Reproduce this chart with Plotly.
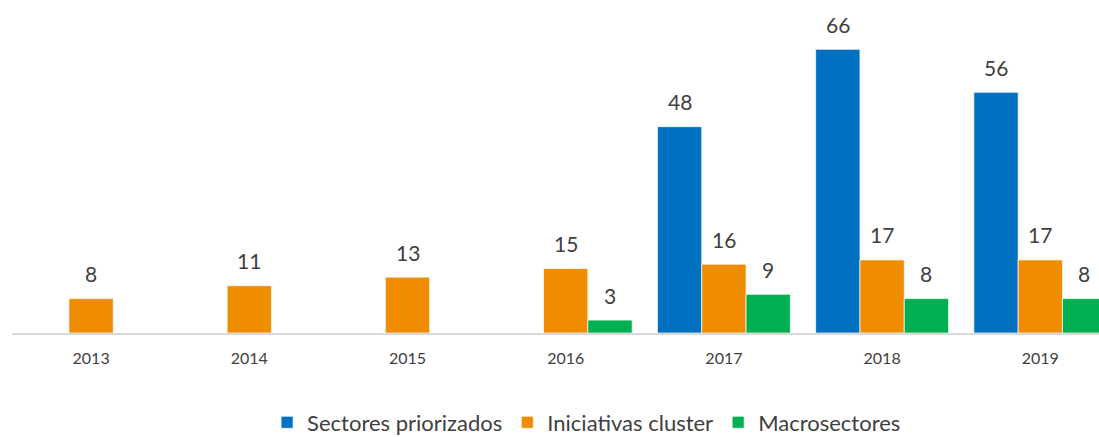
import plotly.graph_objects as go

years = ["2013", "2014", "2015", "2016", "2017", "2018", "2019"]
sectores = [None, None, None, None, 48, 66, 56]
iniciativas = [8, 11, 13, 15, 16, 17, 17]
macro = [None, None, None, 3, 9, 8, 8]

series = [
    ("Sectores priorizados", sectores, "#0070C0", -44),
    ("Iniciativas cluster", iniciativas, "#F08C00", 0),
    ("Macrosectores", macro, "#00B050", 44),
]

FONT = "Lato"
fig = go.Figure()
annotations = []
for name, vals, color, shift in series:
    fig.add_trace(go.Bar(
        x=years, y=vals, name=name,
        marker=dict(color=color, line=dict(color="white", width=0.7)),
    ))
    for i, v in enumerate(vals):
        if v is None:
            continue
        # category axis: annotation x is the category index
        annotations.append(dict(
            x=i, y=v, xref="x", yref="y", text=str(v), showarrow=False,
            xshift=shift, yshift=25, yanchor="middle",
            font=dict(family=FONT, size=21, color="#404040"),
        ))

fig.update_layout(
    width=1099, height=460,
    margin=dict(l=12, r=0, t=10, b=127),
    paper_bgcolor="white", plot_bgcolor="white",
    barmode="group", bargap=0.16, bargroupgap=0,
    annotations=annotations,
    showlegend=True,
    legend=dict(
        orientation="h", x=0.5286, xanchor="center", y=-0.277, yanchor="middle",
        font=dict(family=FONT, size=22, color="#404040"),
        itemwidth=30, traceorder="normal",
    ),
    font=dict(family=FONT),
)
fig.update_xaxes(
    type="category", range=[-0.5, 6.371],
    showline=True, linecolor="#D9D9D9", linewidth=2,
    showgrid=False, ticks="", ticklabelstandoff=10,
    tickfont=dict(family=FONT, size=16, color="#404040"),
)
fig.update_yaxes(
    range=[0, 75.15], showticklabels=False, showline=False,
    showgrid=False, zeroline=False, ticks="",
)

fig.write_html(
    "out.html",
    config={"displayModeBar": False},
    post_script="document.body.style.margin='0px';document.body.style.overflow='hidden';",
)
